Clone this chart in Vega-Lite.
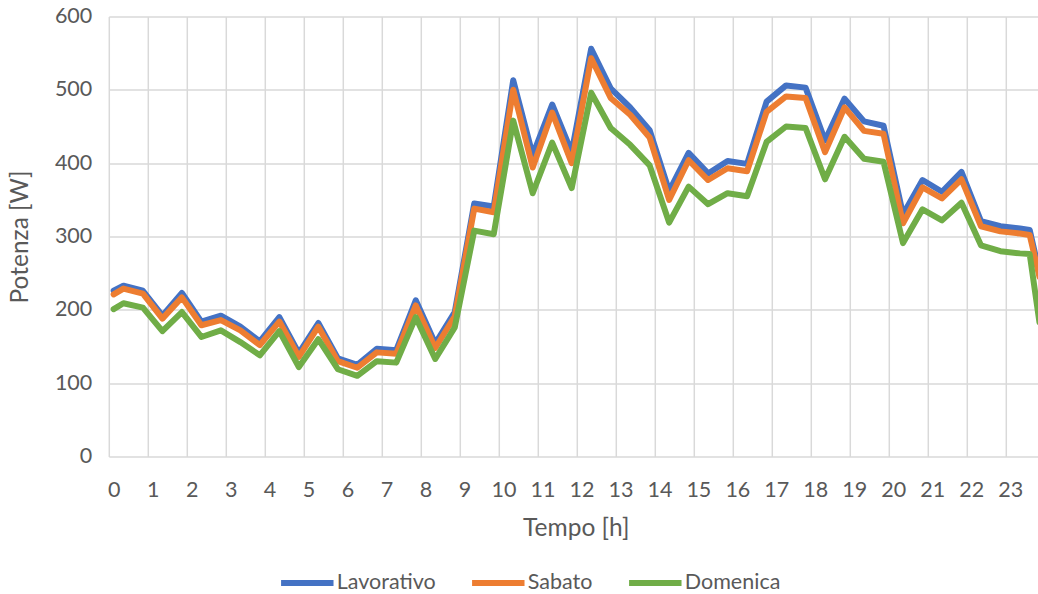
{
  "$schema": "https://vega.github.io/schema/vega-lite/v6.json",
  "autosize": {"type": "none"},
  "width": 929.2,
  "height": 440,
  "padding": {"left": 108.8, "top": 16.5, "right": 0, "bottom": 137.5},
  "background": "white",
  "config": {
    "font": "Lato",
    "view": {"stroke": null},
    "axis": {
      "labelFont": "Lato",
      "titleFont": "Lato",
      "labelColor": "#595959",
      "titleColor": "#595959",
      "labelFontSize": 21.5,
      "titleFontSize": 24.5,
      "titleFontWeight": "normal",
      "gridColor": "#D9D9D9",
      "gridWidth": 1.5,
      "domain": false,
      "ticks": false,
      "tickSize": 0
    }
  },
  "data": {
    "values": [
      {"t": 0, "Lavorativo": 226, "Sabato": 221, "Domenica": 201},
      {"t": 0.25, "Lavorativo": 233, "Sabato": 229, "Domenica": 209},
      {"t": 0.75, "Lavorativo": 226, "Sabato": 222, "Domenica": 203},
      {"t": 1.25, "Lavorativo": 192, "Sabato": 188, "Domenica": 171},
      {"t": 1.75, "Lavorativo": 223, "Sabato": 217, "Domenica": 197},
      {"t": 2.25, "Lavorativo": 184, "Sabato": 179, "Domenica": 163},
      {"t": 2.75, "Lavorativo": 192, "Sabato": 186, "Domenica": 172},
      {"t": 3.25, "Lavorativo": 177, "Sabato": 172, "Domenica": 156},
      {"t": 3.75, "Lavorativo": 157, "Sabato": 152, "Domenica": 138},
      {"t": 4.25, "Lavorativo": 190, "Sabato": 184, "Domenica": 171},
      {"t": 4.75, "Lavorativo": 141, "Sabato": 136, "Domenica": 122},
      {"t": 5.25, "Lavorativo": 182, "Sabato": 177, "Domenica": 160},
      {"t": 5.75, "Lavorativo": 134, "Sabato": 130, "Domenica": 119},
      {"t": 6.25, "Lavorativo": 125, "Sabato": 121, "Domenica": 110},
      {"t": 6.75, "Lavorativo": 147, "Sabato": 142, "Domenica": 130},
      {"t": 7.25, "Lavorativo": 145, "Sabato": 140, "Domenica": 128},
      {"t": 7.75, "Lavorativo": 213, "Sabato": 206, "Domenica": 190},
      {"t": 8.25, "Lavorativo": 154, "Sabato": 148, "Domenica": 133},
      {"t": 8.75, "Lavorativo": 197, "Sabato": 191, "Domenica": 176},
      {"t": 9.25, "Lavorativo": 345, "Sabato": 338, "Domenica": 308},
      {"t": 9.75, "Lavorativo": 341, "Sabato": 333, "Domenica": 303},
      {"t": 10.25, "Lavorativo": 513, "Sabato": 500, "Domenica": 458},
      {"t": 10.75, "Lavorativo": 411, "Sabato": 394, "Domenica": 359},
      {"t": 11.25, "Lavorativo": 480, "Sabato": 469, "Domenica": 428},
      {"t": 11.75, "Lavorativo": 415, "Sabato": 400, "Domenica": 366},
      {"t": 12.25, "Lavorativo": 556, "Sabato": 543, "Domenica": 496},
      {"t": 12.75, "Lavorativo": 502, "Sabato": 489, "Domenica": 448},
      {"t": 13.25, "Lavorativo": 476, "Sabato": 466, "Domenica": 425},
      {"t": 13.75, "Lavorativo": 445, "Sabato": 435, "Domenica": 397},
      {"t": 14.25, "Lavorativo": 362, "Sabato": 350, "Domenica": 319},
      {"t": 14.75, "Lavorativo": 414, "Sabato": 404, "Domenica": 368},
      {"t": 15.25, "Lavorativo": 386, "Sabato": 377, "Domenica": 344},
      {"t": 15.75, "Lavorativo": 403, "Sabato": 393, "Domenica": 359},
      {"t": 16.25, "Lavorativo": 399, "Sabato": 389, "Domenica": 355},
      {"t": 16.75, "Lavorativo": 484, "Sabato": 470, "Domenica": 429},
      {"t": 17.25, "Lavorativo": 506, "Sabato": 491, "Domenica": 450},
      {"t": 17.75, "Lavorativo": 503, "Sabato": 489, "Domenica": 448},
      {"t": 18.25, "Lavorativo": 431, "Sabato": 415, "Domenica": 378},
      {"t": 18.75, "Lavorativo": 488, "Sabato": 476, "Domenica": 436},
      {"t": 19.25, "Lavorativo": 457, "Sabato": 444, "Domenica": 406},
      {"t": 19.75, "Lavorativo": 451, "Sabato": 440, "Domenica": 402},
      {"t": 20.25, "Lavorativo": 330, "Sabato": 318, "Domenica": 291},
      {"t": 20.75, "Lavorativo": 377, "Sabato": 367, "Domenica": 337},
      {"t": 21.25, "Lavorativo": 361, "Sabato": 352, "Domenica": 322},
      {"t": 21.75, "Lavorativo": 388, "Sabato": 378, "Domenica": 346},
      {"t": 22.25, "Lavorativo": 321, "Sabato": 314, "Domenica": 288},
      {"t": 22.75, "Lavorativo": 314, "Sabato": 307, "Domenica": 280},
      {"t": 23.25, "Lavorativo": 311, "Sabato": 304, "Domenica": 277},
      {"t": 23.5, "Lavorativo": 309, "Sabato": 302, "Domenica": 276},
      {"t": 23.75, "Lavorativo": 250, "Sabato": 245, "Domenica": 183}
    ]
  },
  "transform": [
    {"fold": ["Lavorativo", "Sabato", "Domenica"], "as": ["serie", "potenza"]}
  ],
  "mark": {
    "type": "line",
    "clip": true,
    "strokeWidth": 6,
    "strokeJoin": "round",
    "strokeCap": "round"
  },
  "encoding": {
    "x": {
      "field": "t",
      "type": "quantitative",
      "scale": {"domain": [-0.125, 23.713], "nice": false, "zero": false},
      "axis": {
        "title": "Tempo [h]",
        "values": [0, 1, 2, 3, 4, 5, 6, 7, 8, 9, 10, 11, 12, 13, 14, 15, 16, 17, 18, 19, 20, 21, 22, 23],
        "tickOffset": -4.87,
        "labelOffset": 4.87,
        "labelPadding": 34,
        "labelBaseline": "middle",
        "labelFlush": false,
        "labelOverlap": false,
        "titleX": 467,
        "titleY": 72,
        "titleBaseline": "middle",
        "titleAlign": "center"
      }
    },
    "y": {
      "field": "potenza",
      "type": "quantitative",
      "scale": {"domain": [0, 600], "nice": false},
      "axis": {
        "title": "Potenza [W]",
        "values": [0, 100, 200, 300, 400, 500, 600],
        "labelPadding": 17,
        "titleAngle": -90,
        "titleX": -88,
        "titleY": 220,
        "titleBaseline": "middle",
        "titleAlign": "center"
      }
    },
    "color": {
      "field": "serie",
      "type": "nominal",
      "scale": {
        "domain": ["Lavorativo", "Sabato", "Domenica"],
        "range": ["#4472C4", "#ED7D31", "#70AD47"]
      },
      "legend": {
        "title": null,
        "orient": "none",
        "direction": "horizontal",
        "legendX": 169,
        "legendY": 537,
        "symbolType": "stroke",
        "symbolSize": 2750,
        "symbolStrokeWidth": 6,
        "labelFont": "Lato",
        "labelFontSize": 21.5,
        "labelColor": "#595959",
        "labelOffset": 0,
        "columnPadding": 24,
        "gridAlign": "none"
      }
    }
  }
}
